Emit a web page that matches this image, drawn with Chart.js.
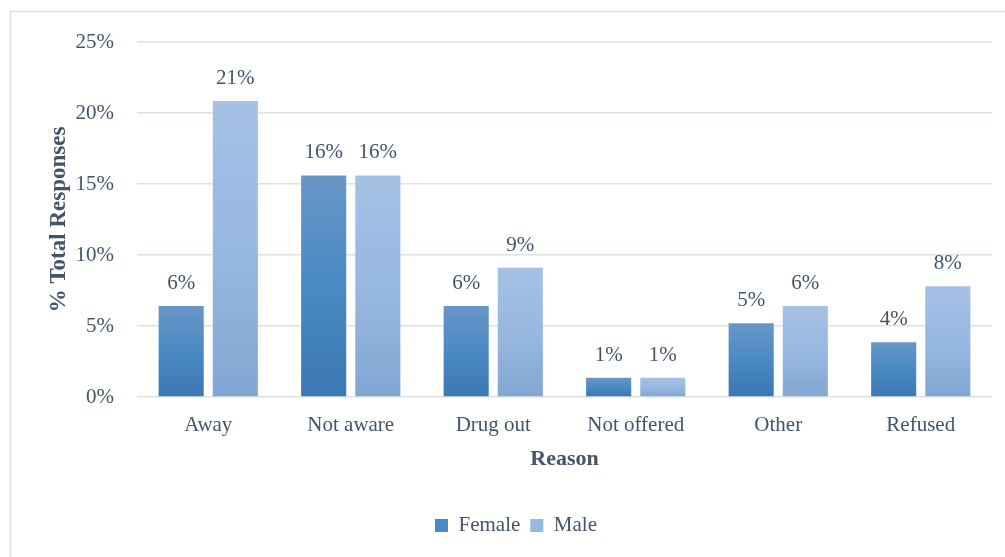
<!DOCTYPE html>
<html>
<head>
<meta charset="utf-8">
<script src="https://cdn.jsdelivr.net/npm/chart.js@4.4.1/dist/chart.umd.min.js"></script>
<style>
  html, body { margin: 0; padding: 0; background: #ffffff; }
  #wrap { width: 1005px; height: 557px; position: relative; }
</style>
</head>
<body>
<div id="wrap"><canvas id="c" width="1005" height="557"></canvas></div>
<script>
const categories = ["Away", "Not aware", "Drug out", "Not offered", "Other", "Refused"];
const femaleValues = [6.4, 15.6, 6.4, 1.35, 5.2, 3.85];
const maleValues = [20.85, 15.6, 9.1, 1.35, 6.4, 7.8];
const yTicks = [0, 5, 10, 15, 20, 25];
const seriesNames = ["Female", "Male"];

const TEXT = '#44546A';
const FONT = "'Liberation Serif', 'Times New Roman', serif";
const femaleStops = ['#6897C6', '#4A89C4', '#3C78B3'];
const maleStops = ['#A5C1E5', '#97B8E1', '#82A6D2'];

function barGradient(ctx, stops) {
  const chart = ctx.chart;
  if (!chart.chartArea || ctx.type !== 'data') return stops[1];
  const yScale = chart.scales.y;
  const top = yScale.getPixelForValue(ctx.raw);
  const bottom = yScale.getPixelForValue(0);
  if (!isFinite(top) || !isFinite(bottom) || top === bottom) return stops[1];
  const g = chart.ctx.createLinearGradient(0, top, 0, bottom);
  g.addColorStop(0, stops[0]);
  g.addColorStop(0.5, stops[1]);
  g.addColorStop(1, stops[2]);
  return g;
}

const framePlugin = {
  id: 'frame',
  beforeDraw(chart) {
    const c = chart.ctx;
    c.save();
    c.fillStyle = '#ffffff';
    c.fillRect(0, 0, chart.width, chart.height);
    c.strokeStyle = '#D9DEE6';
    c.lineWidth = 1.5;
    c.strokeRect(10.5, 11.5, 1100, 1000);
    c.restore();
  }
};

const labelPlugin = {
  id: 'barLabels',
  afterDatasetsDraw(chart) {
    const c = chart.ctx;
    c.save();
    c.font = "21px " + FONT;
    c.fillStyle = TEXT;
    c.textAlign = 'center';
    c.textBaseline = 'alphabetic';
    chart.data.datasets.forEach((ds, i) => {
      const meta = chart.getDatasetMeta(i);
      meta.data.forEach((bar, j) => {
        c.fillText(Math.round(ds.data[j]) + '%', bar.x, bar.y - 17);
      });
    });
    c.restore();
  }
};

new Chart(document.getElementById('c'), {
  type: 'bar',
  data: {
    labels: categories,
    datasets: [
      {
        label: seriesNames[0],
        data: femaleValues,
        backgroundColor: (ctx) => barGradient(ctx, femaleStops),
        barPercentage: 0.833,
        categoryPercentage: 0.76
      },
      {
        label: seriesNames[1],
        data: maleValues,
        backgroundColor: (ctx) => barGradient(ctx, maleStops),
        barPercentage: 0.833,
        categoryPercentage: 0.76
      }
    ]
  },
  options: {
    responsive: false,
    animation: false,
    devicePixelRatio: 1,
    layout: { padding: { top: 42, left: 40, right: 13, bottom: 11 } },
    plugins: {
      legend: {
        position: 'bottom',
        labels: {
          color: TEXT,
          font: { family: FONT, size: 21 },
          boxWidth: 13,
          boxHeight: 13,
          padding: 10,
          generateLabels(chart) {
            const solid = [femaleStops[1], maleStops[1]];
            return chart.data.datasets.map((ds, i) => ({
              text: ds.label,
              fillStyle: solid[i],
              strokeStyle: solid[i],
              lineWidth: 0,
              fontColor: TEXT,
              hidden: false,
              datasetIndex: i
            }));
          }
        }
      },
      tooltip: { enabled: false }
    },
    scales: {
      x: {
        grid: { display: false, drawTicks: false },
        border: { display: false },
        ticks: { color: TEXT, font: { family: FONT, size: 21 }, padding: 16 },
        title: {
          display: true,
          text: 'Reason',
          color: TEXT,
          font: { family: FONT, size: 22, weight: 'bold' },
          padding: { top: 0, bottom: 32 }
        },
        afterFit(scale) { scale.height = 108; }
      },
      y: {
        min: 0,
        max: 25,
        afterBuildTicks(scale) { scale.ticks = yTicks.map(v => ({ value: v })); },
        grid: { color: '#DCE1E8', lineWidth: 1.5, drawTicks: false },
        border: { display: false },
        ticks: {
          color: TEXT,
          font: { family: FONT, size: 21 },
          padding: 23,
          callback: (v) => v + '%'
        },
        title: {
          display: true,
          text: '% Total Responses',
          color: TEXT,
          font: { family: FONT, size: 23, weight: 'bold' },
          padding: { top: 5, bottom: 0 }
        },
        afterFit(scale) { scale.width = 97; }
      }
    }
  },
  plugins: [framePlugin, labelPlugin]
});
</script>
</body>
</html>
